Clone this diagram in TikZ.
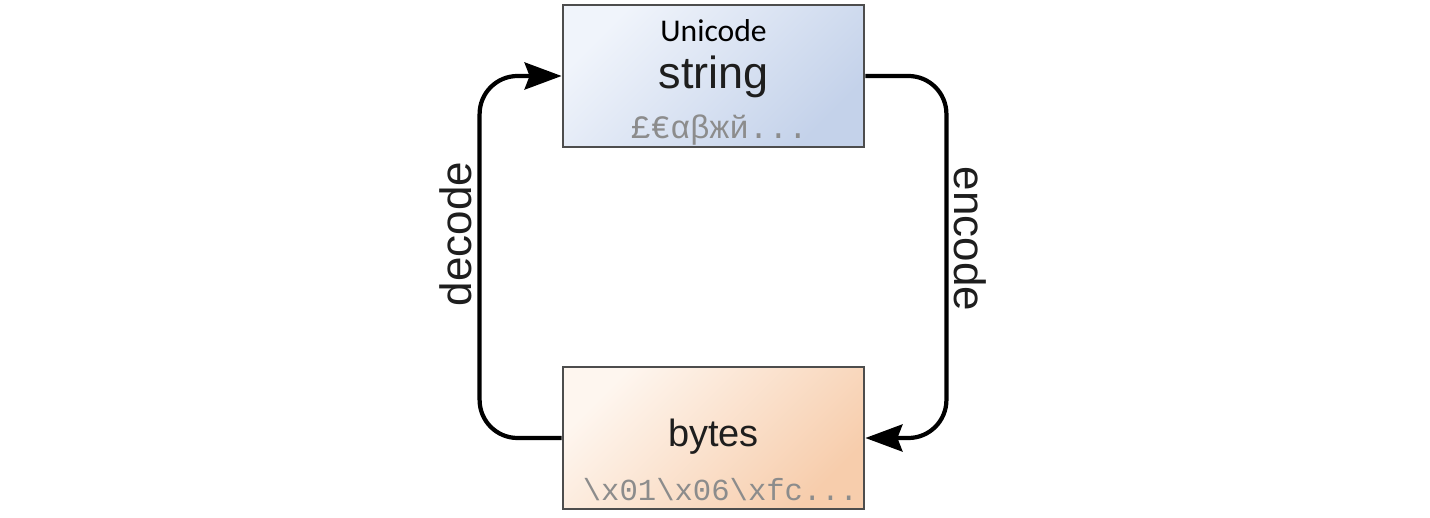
\documentclass[tikz,border=0pt]{standalone}
\usepackage{fontspec}
\usepackage{xcolor}
\usepackage{tikz}
\usetikzlibrary{arrows.meta,positioning}
\setmainfont{Liberation Sans}
\setmonofont{Liberation Mono}
\newfontfamily\unifont{Carlito}
\definecolor{boxgray}{RGB}{77, 77, 77}
\definecolor{strlight}{RGB}{240, 244, 251}
\definecolor{strdark}{RGB}{196, 210, 234}
\definecolor{bytlight}{RGB}{254, 246, 239}
\definecolor{bytdark}{RGB}{247, 205, 172}
\definecolor{codegray}{RGB}{140, 140, 140}
\definecolor{textdark}{RGB}{30, 30, 30}
\tikzset{
    databox/.style={draw=boxgray, line width=0.8pt, minimum width=3.01cm, minimum height=1.42cm, shading angle=45},
    flow/.style={line width=1.2pt, rounded corners=0.38cm, -{Stealth[length=0.37cm, width=0.27cm, inset=0.05cm]}},
    verb/.style={text=textdark, font=\fontsize{12.5pt}{14pt}\selectfont}
}
\begin{document}
\begin{tikzpicture}
    \useasboundingbox (0,0) rectangle (14.3,5.17);
    \node[databox, top color=strlight, bottom color=strdark, shading angle=45] (str) at (7.135,4.41) {};
    \node[databox, top color=bytlight, bottom color=bytdark, shading angle=45] (byt) at (7.135,0.79) {};
    % texts of the boxes
    \node[anchor=base, inner sep=0pt, font=\unifont\fontsize{9pt}{11pt}\selectfont] (uni) at ([yshift=-0.38cm]str.north) {Unicode};
    \node[anchor=base, inner sep=0pt, text=textdark, font=\fontsize{12.8pt}{15pt}\selectfont] (strname) at ([yshift=-0.85cm]str.north) {string};
    \node[anchor=base, inner sep=0pt, text=codegray, font=\ttfamily\fontsize{9.3pt}{11pt}\selectfont] (strcode) at ([xshift=0.06cm, yshift=0.10cm]str.south) {£€αβжй...};
    \node[anchor=base, inner sep=0pt, text=textdark, font=\fontsize{10.8pt}{13pt}\selectfont] (bytname) at ([yshift=-0.81cm]byt.north) {bytes};
    \node[anchor=base, inner sep=0pt, text=codegray, font=\ttfamily\fontsize{8.7pt}{11pt}\selectfont] (bytcode) at ([xshift=0.07cm, yshift=0.10cm]byt.south) {\textbackslash x01\textbackslash x06\textbackslash xfc...};
    % the two ways round
    \draw[flow] (byt.west) -- ++(-0.82,0) |- (str.west);
    \draw[flow] (str.east) -- ++(0.81,0) |- (byt.east);
    \node[verb, rotate=90] (dec) at (4.56,2.83) {decode};
    \node[verb, rotate=-90] (enc) at (9.70,2.78) {encode};
\end{tikzpicture}
\end{document}
